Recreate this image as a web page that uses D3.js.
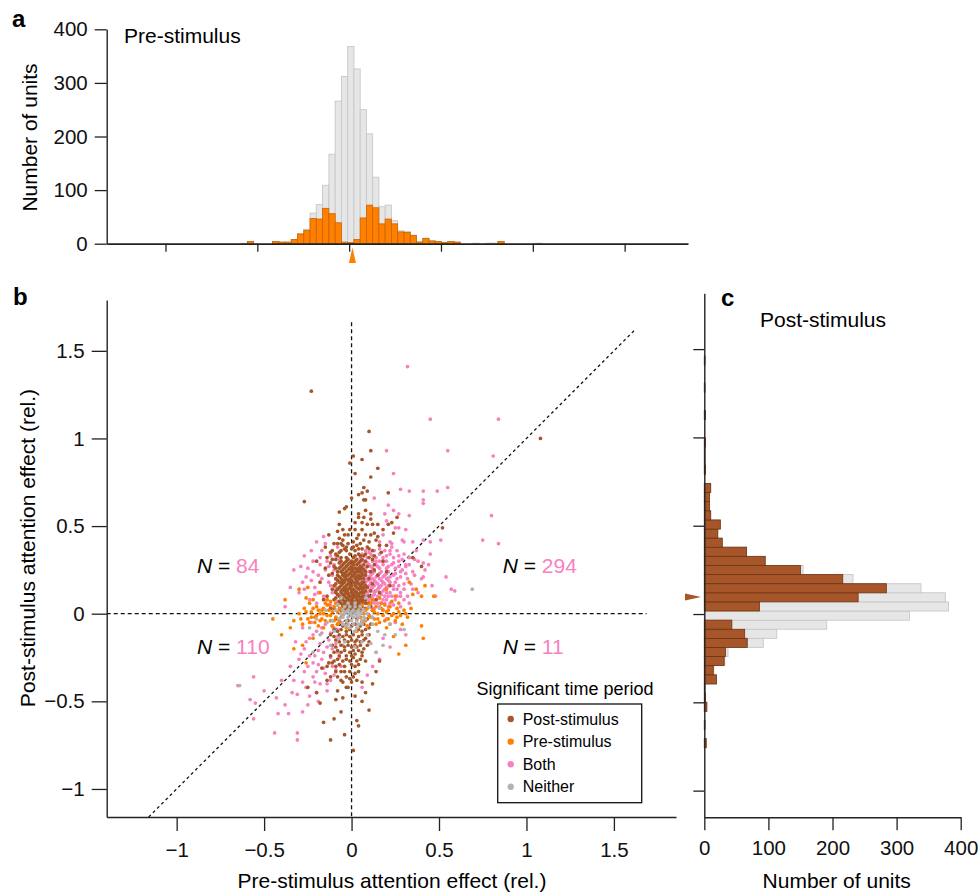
<!DOCTYPE html>
<html>
<head>
<meta charset="utf-8">
<title>Attention effect: pre vs post stimulus</title>
<script src="https://cdn.jsdelivr.net/npm/d3@7"></script>
<style>
  body { margin: 0; background: #fff; }
  svg { font-family: "Liberation Sans", Arial, Helvetica, sans-serif; }
</style>
</head>
<body>
<svg width="979" height="894"></svg>

<script>
// ---- histogram data (bin lower edge, all units, significant units) ----
const preBinWidth = 0.0341;
const preBinLo = [-0.588, -0.554, -0.417, -0.383, -0.349, -0.315, -0.281, -0.247, -0.213, -0.179, -0.145, -0.110, -0.076, -0.042, -0.008, 0.026, 0.060, 0.094, 0.128, 0.162, 0.196, 0.230, 0.265, 0.299, 0.333, 0.367, 0.401, 0.435, 0.469, 0.503, 0.537, 0.571, 0.674, 0.742, 0.776, 0.810, 1.015];
const preAll = [1, 4, 4, 3, 3, 8, 19, 27, 57, 73, 109, 167, 266, 312, 368, 326, 250, 205, 124, 69, 72, 43, 24, 23, 16, 4, 10, 6, 4, 2, 4, 3, 1, 1, 1, 4, 1];
const preSig = [0, 4, 4, 3, 3, 8, 18, 25, 47, 46, 66, 56, 39, 3, 2, 8, 48, 72, 67, 37, 46, 37, 22, 21, 15, 3, 10, 5, 4, 2, 4, 3, 0, 0, 0, 4, 0];

const postBinWidth = 0.0516;
const postBinLo = [-0.757, -0.654, -0.551, -0.499, -0.447, -0.396, -0.344, -0.292, -0.241, -0.189, -0.138, -0.086, -0.035, 0.017, 0.069, 0.120, 0.172, 0.223, 0.275, 0.327, 0.378, 0.430, 0.481, 0.533, 0.585, 0.636, 0.688, 0.791, 0.843, 0.894, 0.946, 1.101, 1.256, 1.410];
const postAll = [3, 1, 4, 2, 1, 19, 15, 32, 37, 92, 113, 191, 320, 381, 376, 338, 232, 154, 95, 66, 28, 21, 25, 10, 8, 8, 10, 2, 1, 1, 2, 2, 1, 1];
const postSig = [3, 1, 4, 2, 1, 19, 14, 31, 33, 67, 63, 43, 0, 86, 240, 284, 216, 150, 95, 66, 28, 21, 25, 10, 8, 8, 10, 2, 1, 1, 2, 2, 1, 1];

const preMedian = 0.018;
const postMedian = 0.096;

// ---- scatter data, [pre, post] in hundredths ----
const bothPts = [
  [32,141],[45,111],[84,111],[20,93],[55,93],[81,90],[24,80],[28,71],[33,70],[41,70],[49,70],[55,72],[41,65],[41,63],[13,66],[21,62],[24,59],[27,57],[33,56],[19,57],[20,53],[80,56],[75,42],[84,40],[51,42],[45,41],[41,42],[45,34],[41,29],[41,21],[54,21],[46,16],[57,14],[59,13],[48,10],[31,48],[25,49],[27,49],[18,45],[22,41],[23,40],[29,42],[30,41],[35,41],[16,41],
  [8,36],[13,36],[19,36],[26,36],[6,34],[11,34],[16,34],[22,34],[30,34],[9,32],[14,32],[18,32],[24,32],[33,32],[7,30],[12,30],[16,30],[20,30],[27,30],
  [5,28],[10,28],[14,28],[18,28],[23,28],[31,28],[8,26],[12,26],[16,26],[20,26],[25,26],[6,24],[10,24],[13,24],[17,24],[21,24],[28,24],[35,24],
  [7,22],[11,22],[15,22],[19,22],[24,22],[5,20],[9,20],[12,20],[16,20],[20,20],[26,20],[32,20],[8,18],[11,18],[14,18],[18,18],[22,18],
  [6,16],[10,16],[13,16],[17,16],[21,16],[27,16],[7,14],[11,14],[15,14],[19,14],[24,14],[30,14],[5,12],[9,12],[13,12],[16,12],[20,12],
  [8,10],[12,10],[15,10],[19,10],[23,10],[28,10],[6,8],[10,8],[14,8],[18,8],[25,8],[9,6],[13,6],[17,6],[22,6],[33,6],[11,4],[16,4],[21,4],
  [38,30],[36,22],[34,17],[38,12],[42,25],[30,8],[28,4],[3,26],[4,18],[2,10],[37,36],[31,27],
  [10,35],[16,37],[22,36],[5,32],[12,33],[20,33],[27,33],[9,29],[14,30],[18,30],[24,29],[29,31],[6,27],[11,27],[15,27],[21,27],[27,27],
  [8,23],[12,23],[16,23],[20,23],[25,23],[31,23],[6,21],[10,21],[14,21],[18,21],[22,21],[28,21],[9,19],[13,19],[17,19],[21,19],[25,18],
  [7,17],[11,17],[15,17],[19,17],[24,16],[30,17],[8,15],[12,15],[16,15],[20,15],[26,14],[6,13],[10,13],[14,13],[18,13],[22,12],[28,12],
  [9,11],[13,11],[17,11],[21,10],[26,10],[7,9],[11,9],[16,9],[20,8],[8,7],[12,7],[15,6],[19,6],[24,5],[13,3],[18,2],[32,10],[35,14],[29,25],[33,28],[23,38],[36,31],[40,20],[44,28],
  [-8,38],[-12,33],[-17,36],[-22,30],[-10,28],[-15,25],[-19,22],[-25,26],[-9,20],[-13,18],[-21,15],[-28,18],[-11,12],[-16,10],[-24,8],[-8,7],[-30,12],[-14,30],[-19,12],[-12,5],[-26,21],[-18,28],[-9,15],[-6,24],[-33,25],[-23,36],[-20,41],[-16,44],[-27,33],[-11,22],[-7,31],[-35,15],[-38,4],[-20,6],[-15,40],
  [-9,33],[-13,27],[-18,32],[-22,24],[-12,16],[-17,20],[-23,19],[-29,27],[-14,8],[-21,11],[-10,25],[-27,14],
  [-6,-5],[-10,-8],[-15,-6],[-20,-10],[-8,-13],[-13,-15],[-18,-17],[-24,-14],[-11,-20],[-16,-22],[-21,-24],[-27,-20],[-7,-25],[-13,-28],[-19,-29],[-25,-30],[-9,-32],[-15,-34],[-22,-36],[-30,-26],[-12,-38],[-18,-40],[-26,-42],[-33,-38],[-5,-18],[-28,-8],[-32,-16],[-23,-5],[-17,-11],[-10,-35],[-20,-33],[-14,-44],[-24,-47],[-31,-46],[-43,-48],[-56,-36],[-55,-51],[-56,-60],[-42,-57],[-31,-68],[-19,-50],[-58,-49],[-44,-68],[-31,-72],[-36,-57],[-50,-44],[-65,-41],[-40,-38],[-28,-56],[-6,-30],
  [-8,-9],[-12,-11],[-17,-8],[-22,-12],[-26,-16],[-9,-17],[-14,-19],[-19,-21],[-24,-24],[-29,-23],[-8,-22],[-12,-25],[-17,-26],[-22,-28],[-27,-33],[-11,-30],[-16,-31],[-21,-39],[-14,-40],[-28,-39],[-35,-30],[-34,-45],[-20,-45],[-38,-52],[-25,-52],
  [18,-14],[22,-19],[16,-26],[28,-9],[12,-30],[25,-5],[9,-35],[31,-12],[14,-22],[20,-3],[6,-42]
];

const postPts = [
  [-23,127],[108,100],[-27,64],[10,104],[11,93],[1,90],[-1,86],[6,88],[15,83],[2,80],[11,78],[7,72],[4,68],[6,69],[9,70],[21,69],[0,66],[7,65],[8,65],[-3,61],[-4,60],[-7,58],[52,49],[40,27],[35,32],
  [8,59],[11,57],[11,54],[4,57],[4,55],[7,55],[2,52],[6,52],[9,51],[12,51],[15,51],[18,48],[15,44],[21,51],[6,48],[2,48],[-1,48],[-2,45],[-7,51],[-8,47],[-5,48],[-4,45],[-5,42],[-10,40],[-6,40],[-13,45],[-7,43],[4,45],[8,45],[11,45],[13,46],[3,43],[7,42],[10,41],[14,42],[16,39],[20,39],[23,52],[24,46],[26,55],[-11,36],[-9,34],[-3,36],[-11,31],[-14,32],
  [-8,40],[-5,39],[-2,40],[1,41],[3,39],[5,40],[-4,37],[0,37],[2,36],[6,37],[9,38],[12,36],[-7,35],[-1,34],[4,34],[8,34],[-9,31],[-6,32],[-3,32],[1,32],[3,31],[6,31],[10,32],[13,33],[-15,38],[17,35],
  [-6,30],[-3,30],[0,30],[2,30],[5,30],[-4,29],[-1,29],[1,29],[4,29],[-5,28],[-2,28],[1,28],[3,28],[7,28],[-3,27],[0,27],[5,27],
  [-7,26],[-4,26],[-1,26],[2,26],[4,26],[6,26],[-5,25],[0,25],[3,25],[-6,24],[-3,24],[0,24],[3,24],[5,24],[8,24],[-4,23],[-1,23],[2,23],[6,23],
  [-8,22],[-5,22],[-2,22],[1,22],[4,22],[6,22],[-4,21],[0,21],[3,21],[-6,20],[-3,20],[-1,20],[2,20],[5,20],[7,20],[-5,19],[-2,19],[3,19],
  [-7,18],[-4,18],[-1,18],[1,18],[3,18],[6,18],[-5,17],[-2,17],[4,17],[-6,16],[-3,16],[0,16],[2,16],[5,16],[8,16],[-4,15],[-1,15],[3,15],[7,15],
  [-8,14],[-5,14],[-2,14],[1,14],[4,14],[6,14],[-4,13],[0,13],[2,13],[-6,12],[-3,12],[0,12],[3,12],[5,12],[7,12],[-5,11],[-2,11],[1,11],[4,11],
  [-7,10],[-4,10],[-1,10],[2,10],[4,10],[6,10],[-3,9],[1,9],[5,9],[-5,8],[-2,8],[0,8],[3,8],[5,8],[8,8],[-4,7],[-1,7],[1,7],[6,7],
  [-6,6],[-3,6],[-1,6],[2,6],[4,6],[6,6],[-4,5],[0,5],[3,5],[-5,4],[-2,4],[1,4],[3,4],[5,4],[-3,3],[0,3],[2,3],[-4,2],[-1,2],[2,2],[4,2],
  [-8,33],[-6,36],[-3,38],[1,38],[4,37],[7,33],[-7,29],[-2,31],[2,33],[5,33],[8,30],[-9,26],[-6,27],[-2,25],[1,26],[5,26],[7,25],[-8,24],[-5,23],[1,24],[4,24],[8,22],
  [-7,21],[-3,22],[2,21],[5,21],[-8,19],[-4,19],[0,19],[4,20],[7,18],[-9,17],[-6,18],[-1,17],[2,17],[6,17],[-7,15],[-3,14],[0,14],[5,15],[8,13],[-9,13],[-6,13],
  [-2,12],[2,12],[6,12],[-8,11],[-4,11],[0,10],[3,10],[7,10],[-9,9],[-6,9],[-2,9],[3,8],[7,8],[-7,7],[-3,7],[0,6],[4,7],[8,6],[-8,5],[-5,5],[-1,4],[2,5],[6,4],
  [-6,2],[-3,1],[1,1],[5,2],[8,3],[-10,16],[10,10],[-11,23],[11,24],[-12,29],[12,31],[-10,3],[11,4],
  [-10,27],[-9,20],[-11,14],[-10,8],[-12,3],[9,27],[10,20],[11,13],[10,6],[12,2],[-9,12],[9,15],[-13,22],[13,25],[-14,10],[14,8],[10,37],[13,28],[15,22],[18,30],[12,17],[16,12],[20,24],[22,16],[-12,35],[-15,26],[-18,18],[-16,8],[-20,30],
  [-9,-3],[9,-3],[-8,-6],[-3,-6],[2,-6],[7,-6],[11,-6],[-10,-9],[-6,-9],[-1,-9],[4,-9],[8,-9],[-12,-12],[-7,-12],[-3,-12],[1,-12],[6,-12],[10,-12],
  [-9,-15],[-4,-15],[0,-15],[3,-15],[7,-15],[-11,-18],[-6,-18],[-2,-18],[2,-18],[5,-18],[9,-18],[-8,-21],[-4,-21],[1,-21],[4,-21],
  [-12,-24],[-7,-24],[-3,-24],[0,-24],[6,-24],[-5,-27],[-1,-27],[3,-27],[8,-27],[-14,-30],[-9,-30],[-4,-30],[2,-30],[-6,-33],[-1,-33],[4,-33],
  [-12,-36],[-8,-36],[-3,-36],[1,-36],[-5,-39],[0,-39],[6,-39],
  [-7,-4],[-2,-4],[3,-3],[6,-4],[-11,-7],[-5,-7],[0,-7],[5,-7],[10,-8],[-8,-10],[-3,-10],[2,-10],[6,-10],[-10,-13],[-5,-13],[-1,-13],[4,-13],[8,-14],
  [-7,-16],[-2,-16],[2,-16],[5,-16],[10,-16],[-9,-19],[-4,-19],[0,-19],[3,-19],[7,-20],[-10,-22],[-6,-22],[-1,-22],[2,-23],[6,-22],
  [-8,-26],[-3,-26],[1,-25],[5,-26],[-11,-28],[-7,-29],[0,-29],[4,-29],[-9,-33],[-4,-33],[2,-34],[-6,-38],[-1,-37],[3,-38],[-3,-42],[-8,-44],[2,-47],
  [-2,-42],[-5,-48],[-9,-49],[8,-45],[-18,-51],[-4,-69],[4,-64],[-14,-38],[-17,-31],[-13,-28],[16,-27],[-12,-72],[3,-61],[-20,-45],[12,-40],[10,-55],[-10,-60],[-6,-56],[6,-50],[-25,-42],[14,-33],[-16,-62],[1,-78],[-10,-27]
];

const prePts = [
  [-30,0],[-27,3],[-25,-3],[-23,1],[-21,-5],[-20,4],[-18,0],[-17,-3],[-16,3],[-15,6],[-14,-1],[-13,2],[-12,-4],[-11,1],[-10,4],[-9,-2],[-8,1],[-7,-5],[-6,3],[-5,-1],[-19,-7],[-24,6],[-28,-6],[-22,8],[-16,-8],[-12,7],[-26,9],[-33,-4],[-14,5],[-9,6],[-11,-7],[-20,-1],[-17,2],[-23,-2],
  [4,2],[5,-2],[6,5],[7,0],[8,-4],[9,3],[10,-1],[11,6],[12,2],[13,-3],[14,4],[15,0],[16,-5],[17,3],[18,-1],[19,5],[20,1],[21,-3],[22,4],[24,0],[25,-4],[26,3],[28,-1],[30,2],[32,-2],[12,8],[16,9],[20,-8],[23,7],[27,6],[9,-7],[14,-6],[34,3],[29,-6],[11,-2],[18,2],
  [-29,-3],[-26,1],[-24,-5],[-22,3],[-19,2],[-18,-4],[-15,-4],[-13,5],[-10,-4],[-8,-6],[-7,3],[-6,-2],[-4,1],[6,-5],[8,2],[10,5],[13,1],[15,-3],[17,6],[19,-4],[21,2],[23,-1],[26,-2],[27,1],[31,0],[-21,-2],[-16,0],[-12,-1],[-14,8],[22,-6],
  [-38,8],[-30,14],[-35,-8],[-28,-18],[-22,-14],[-33,-20],[-40,-12],[-25,15],[-18,12],[27,-23],[41,-14],[35,11],[40,10],[37,14],[42,16],[40,-7],[47,10],[31,-18],[20,14],[25,10],[-3,-8],[3,-10],[-45,-3],[-26,-28],[33,18],[24,-13]
];

const neitherPts = [
  [-4,4],[-1,4],[2,4],[5,4],[-5,2],[-2,2],[1,2],[4,2],[7,2],[-4,0],[-1,0],[2,0],[5,0],[-5,-2],[-2,-2],[1,-2],[4,-2],[7,-2],
  [-3,-4],[0,-4],[3,-4],[6,-4],[-5,-6],[-2,-6],[1,-6],[4,-6],[-1,-8],[3,-8],
  [-3,1],[0,1],[3,1],[6,1],[-6,0],[0,-1],[3,-1],[6,-6],[-3,-7],[2,-10],[-7,-3],[8,-3],[-9,2],[9,0],[-2,6],[2,6],[-11,-4],[12,-2],
  [-10,-10],[-14,-5],[-8,5],[10,4],[12,-6],[9,-12],[-7,-14],[15,-10],[-18,-12],[-12,-18],[19,-12],[22,-6],[6,-16],[2,-19],[-20,-3],[16,3],[-4,-16],[25,-12],[-15,2],[11,-17],[69,14],[-64,-41],[8,9],[-6,9],[18,-18],[-22,-22],[30,-9],[14,-22],[-24,-8]
];

// ---- labels ----
const xTicks = [-1, -0.5, 0, 0.5, 1, 1.5];
const xTickLabels = ["\u22121", "\u22120.5", "0", "0.5", "1", "1.5"];
const yTicks = [-1, -0.5, 0, 0.5, 1, 1.5];
const yTickLabels = ["\u22121", "\u22120.5", "0", "0.5", "1", "1.5"];
const countTicks = [0, 100, 200, 300, 400];
const quadrantN = [
  { qx: -1, qy: 1, n: 84 }, { qx: 1, qy: 1, n: 294 },
  { qx: -1, qy: -1, n: 110 }, { qx: 1, qy: -1, n: 11 }
];
const legendItems = ["Post-stimulus", "Pre-stimulus", "Both", "Neither"];

const colors = {
  post: "#a65628", pre: "#ff7f00", both: "#f781bf", neither: "#b3b3b3",
  all: "#e6e6e6", allStroke: "#c8c8c8"
};
const legendColors = [colors.post, colors.pre, colors.both, colors.neither];
const font = "'Liberation Sans', Arial, Helvetica, sans-serif";

const svg = d3.select("svg");

// scales
const x = d3.scaleLinear().domain([-1.4, 1.855]).range([106.7, 676]);
const y = d3.scaleLinear().domain([-1.16, 1.79]).range([817, 300]);
const xTop = d3.scaleLinear().domain([-1.32, 1.845]).range([106.7, 688]);
const yTop = d3.scaleLinear().domain([0, 400]).range([243.7, 29.3]);
const xR = d3.scaleLinear().domain([0, 400]).range([704.3, 960.7]);
const yR = d3.scaleLinear().domain([-1.151, 1.816]).range([817.3, 293.3]);

function styleAxis(g, size) {
  g.attr("font-family", font).attr("font-size", size || 20.5);
  g.select(".domain").attr("stroke", "#222").attr("stroke-width", 1.4);
  g.selectAll(".tick line").attr("stroke", "#222").attr("stroke-width", 1.3);
  g.selectAll(".tick text").attr("fill", "#111");
}

// ===== panel a: pre-stimulus histogram =====
const preBins = preBinLo.map((lo, i) => ({ lo, all: preAll[i], sig: preSig[i] }));

svg.append("g").selectAll("rect")
  .data(preBins)
  .join("rect")
  .attr("x", d => xTop(d.lo))
  .attr("width", xTop(preBinWidth) - xTop(0))
  .attr("y", d => yTop(d.all))
  .attr("height", d => yTop(0) - yTop(d.all))
  .attr("fill", colors.all)
  .attr("stroke", colors.allStroke)
  .attr("stroke-width", 0.9);

svg.append("g").selectAll("rect")
  .data(preBins.filter(d => d.sig > 0))
  .join("rect")
  .attr("x", d => xTop(d.lo))
  .attr("width", xTop(preBinWidth) - xTop(0))
  .attr("y", d => yTop(d.sig))
  .attr("height", d => yTop(0) - yTop(d.sig))
  .attr("fill", colors.pre)
  .attr("stroke", "#c96400")
  .attr("stroke-width", 0.8);

svg.append("g")
  .attr("transform", `translate(0,${yTop(0)})`)
  .call(d3.axisBottom(xTop).tickValues(xTicks).tickFormat("").tickSize(8).tickSizeOuter(0))
  .call(g => styleAxis(g))
  .call(g => g.select(".domain").attr("stroke-width", 1.8));

svg.append("g")
  .attr("transform", `translate(${xTop.range()[0]},0)`)
  .call(d3.axisLeft(yTop).tickValues(countTicks).tickSize(12).tickPadding(7).tickSizeOuter(0))
  .call(g => styleAxis(g));

svg.append("path")
  .attr("d", `M${xTop(preMedian) - 3.5},263 L${xTop(preMedian)},247.5 L${xTop(preMedian) + 3.5},263 Z`)
  .attr("fill", colors.pre);

svg.append("text").attr("x", 124).attr("y", 42.5).attr("font-size", 21).text("Pre-stimulus");
svg.append("text")
  .attr("transform", "translate(36.5,137.5) rotate(-90)")
  .attr("text-anchor", "middle").attr("font-size", 21)
  .text("Number of units");

// ===== panel b: scatter =====
const lines = svg.append("g").attr("stroke", "#111").attr("stroke-width", 1.3).attr("fill", "none");
lines.append("line")
  .attr("x1", x(0)).attr("x2", x(0)).attr("y1", y(1.663)).attr("y2", y(-1.16))
  .attr("stroke-dasharray", "4,3");
lines.append("line")
  .attr("x1", x(-1.4)).attr("x2", x(1.687)).attr("y1", y(0)).attr("y2", y(0))
  .attr("stroke-dasharray", "4,3");
lines.append("line")
  .attr("x1", x(-1.16)).attr("y1", y(-1.16)).attr("x2", x(1.625)).attr("y2", y(1.625))
  .attr("stroke-dasharray", "3,3");

function drawPoints(pts, color) {
  svg.append("g").selectAll("circle")
    .data(pts)
    .join("circle")
    .attr("cx", d => x(d[0] / 100))
    .attr("cy", d => y(d[1] / 100))
    .attr("r", 1.85)
    .attr("fill", color);
}
drawPoints(bothPts, colors.both);
drawPoints(postPts, colors.post);
drawPoints(prePts, colors.pre);
drawPoints(neitherPts, colors.neither);

svg.append("g")
  .attr("transform", `translate(0,${y.range()[0]})`)
  .call(d3.axisBottom(x).tickValues(xTicks).tickFormat((d, i) => xTickLabels[i]).tickSize(14).tickPadding(11).tickSizeOuter(0))
  .call(g => styleAxis(g));

svg.append("g")
  .attr("transform", `translate(${x.range()[0]},0)`)
  .call(d3.axisLeft(y).tickValues(yTicks).tickFormat((d, i) => yTickLabels[i]).tickSize(15).tickPadding(7).tickSizeOuter(0))
  .call(g => styleAxis(g));

svg.append("text")
  .attr("x", 392).attr("y", 888).attr("text-anchor", "middle").attr("font-size", 21)
  .text("Pre-stimulus attention effect (rel.)");
svg.append("text")
  .attr("transform", "translate(34.5,548) rotate(-90)")
  .attr("text-anchor", "middle").attr("font-size", 21)
  .text("Post-stimulus attention effect (rel.)");

// quadrant counts
const nText = svg.append("g").attr("font-size", 21).selectAll("text")
  .data(quadrantN)
  .join("text")
  .attr("x", d => d.qx < 0 ? 197 : 502.7)
  .attr("y", d => d.qy > 0 ? 572.5 : 653.5);
nText.append("tspan").attr("font-style", "italic").text("N");
nText.append("tspan").text(" = ");
nText.append("tspan").attr("fill", colors.both).text(d => d.n);

// legend
const legend = svg.append("g");
legend.append("text")
  .attr("x", 565).attr("y", 695).attr("text-anchor", "middle").attr("font-size", 18)
  .text("Significant time period");
legend.append("rect")
  .attr("x", 497.7).attr("y", 704).attr("width", 144).attr("height", 98.7)
  .attr("fill", "#fff").attr("stroke", "#111").attr("stroke-width", 1.3);
const rows = legend.selectAll("g.item")
  .data(legendItems)
  .join("g")
  .attr("class", "item")
  .attr("transform", (d, i) => `translate(0,${719 + i * 22.6})`);
rows.append("circle").attr("cx", 510.7).attr("cy", 0).attr("r", 3.2).attr("fill", (d, i) => legendColors[i]);
rows.append("text").attr("x", 522.7).attr("y", 5.6).attr("font-size", 16).text(d => d);

// ===== panel c: post-stimulus histogram =====
const postBins = postBinLo.map((lo, i) => ({ lo, all: postAll[i], sig: postSig[i] }));
const barH = yR(0) - yR(postBinWidth);

svg.append("g").selectAll("rect")
  .data(postBins)
  .join("rect")
  .attr("x", xR(0))
  .attr("y", d => yR(d.lo + postBinWidth))
  .attr("width", d => xR(d.all) - xR(0))
  .attr("height", barH)
  .attr("fill", colors.all)
  .attr("stroke", colors.allStroke)
  .attr("stroke-width", 0.9);

svg.append("g").selectAll("rect")
  .data(postBins.filter(d => d.sig > 0))
  .join("rect")
  .attr("x", xR(0))
  .attr("y", d => yR(d.lo + postBinWidth))
  .attr("width", d => xR(d.sig) - xR(0))
  .attr("height", barH)
  .attr("fill", colors.post)
  .attr("stroke", "#6e3415")
  .attr("stroke-width", 0.8);

svg.append("g")
  .attr("transform", `translate(0,${yR.range()[0]})`)
  .call(d3.axisBottom(xR).tickValues(countTicks).tickSize(13).tickPadding(10).tickSizeOuter(0))
  .call(g => styleAxis(g));

svg.append("g")
  .attr("transform", `translate(${xR.range()[0]},0)`)
  .call(d3.axisLeft(yR).tickValues(yTicks).tickFormat("").tickSize(11).tickSizeOuter(0))
  .call(g => styleAxis(g));

svg.append("path")
  .attr("d", `M685,${yR(postMedian) - 3.5} L701,${yR(postMedian)} L685,${yR(postMedian) + 3.5} Z`)
  .attr("fill", colors.post);

svg.append("text").attr("x", 760).attr("y", 326.5).attr("font-size", 21).text("Post-stimulus");
svg.append("text")
  .attr("x", 836.7).attr("y", 888).attr("text-anchor", "middle").attr("font-size", 21)
  .text("Number of units");

// panel letters
const letters = [["a", 12, 27], ["b", 13, 305], ["c", 721, 306]];
svg.append("g").attr("font-weight", "bold").attr("font-size", 24)
  .selectAll("text")
  .data(letters)
  .join("text")
  .attr("x", d => d[1]).attr("y", d => d[2])
  .text(d => d[0]);
</script>
</body>
</html>
